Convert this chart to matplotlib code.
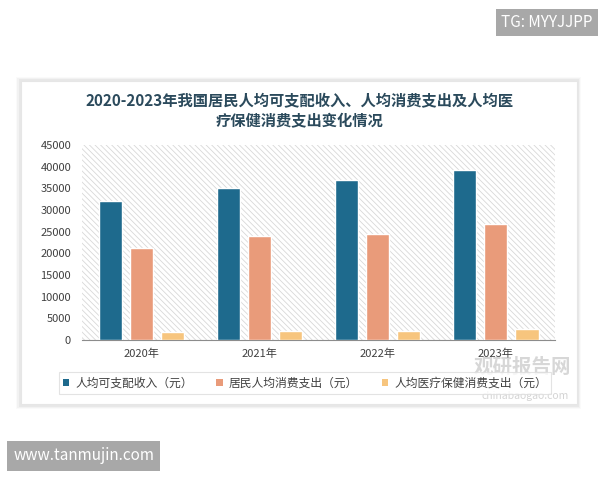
import matplotlib
matplotlib.use("Agg")
import matplotlib.pyplot as plt
from matplotlib.patches import Rectangle, FancyBboxPatch, Patch
import numpy as np

plt.rcParams['font.family'] = ['Noto Sans CJK SC', 'DejaVu Sans']
plt.rcParams['hatch.linewidth'] = 0.6

years = ["2020年", "2021年", "2022年", "2023年"]
income = [32189, 35128, 36883, 39218]
consumption = [21210, 24100, 24538, 26796]
health = [1843, 2115, 2120, 2460]
series_names = ["人均可支配收入（元）", "居民人均消费支出（元）", "人均医疗保健消费支出（元）"]
colors = ["#1E6A8D", "#E99B7A", "#F7C57E"]
yticks = [0, 5000, 10000, 15000, 20000, 25000, 30000, 35000, 40000, 45000]

fig = plt.figure(figsize=(6, 4.8), dpi=100)
fig.patch.set_facecolor("white")

# card with soft shadow
for i, a in enumerate([0.02, 0.03, 0.04]):
    fig.patches.append(FancyBboxPatch((0.033 - 0.002*(3-i), 0.156 - 0.003*(3-i)),
                                      0.93 + 0.004*(3-i), 0.677 + 0.005*(3-i),
                                      boxstyle="square,pad=0", transform=fig.transFigure,
                                      facecolor="black", alpha=a, edgecolor="none", zorder=-3))
fig.patches.append(Rectangle((0.035, 0.158), 0.926, 0.673, transform=fig.transFigure,
                             facecolor="white", edgecolor="#e6e6e6", lw=0.8, zorder=-2))

ax = fig.add_axes([0.137, 0.2917, 0.788, 0.406])
ax.set_facecolor("none")
ax.add_patch(Rectangle((0, 0), 1, 1, transform=ax.transAxes, facecolor="white",
                       hatch="\\\\\\\\\\\\", edgecolor="#d8d8d8", lw=0, zorder=0))

x = np.arange(len(years))
w = 0.195
pitch = 0.263
for k, (vals, c) in enumerate(zip([income, consumption, health], colors)):
    ax.bar(x + (k - 1) * pitch, vals, width=w, color=c, edgecolor="white", lw=1.0, zorder=3)

ax.set_xlim(-0.5, 3.5)
ax.set_ylim(0, 45000)
ax.set_yticks(yticks)
ax.set_yticklabels([str(v) for v in yticks], fontsize=8, color="#404040")
ax.set_xticks(x)
ax.set_xticklabels(years, fontsize=8, color="#404040")
ax.tick_params(axis="both", length=0)
ax.tick_params(axis="y", pad=8)
ax.tick_params(axis="x", pad=6)
for s in ["top", "right", "left"]:
    ax.spines[s].set_visible(False)
ax.spines["bottom"].set_color("#8c8c8c")
ax.spines["bottom"].set_linewidth(0.8)

fig.text(0.5, 0.769, "2020-2023年我国居民人均可支配收入、人均消费支出及人均医\n疗保健消费支出变化情况",
         ha="center", va="center", fontsize=11, fontweight="bold", color="#2B4A5C", linespacing=1.3)

handles = [Patch(facecolor=c, edgecolor="none") for c in colors]
leg = fig.legend(handles, series_names, loc="center", bbox_to_anchor=(0.508, 0.202),
                 ncol=3, fontsize=8.5, frameon=True, fancybox=False, edgecolor="#dcdcdc",
                 handlelength=0.55, handleheight=0.55, handletextpad=0.5, columnspacing=2.0,
                 borderpad=0.35)
leg.get_frame().set_linewidth(0.8)
for t in leg.get_texts():
    t.set_color("#404040")

# watermarks
fig.text(0.87, 0.235, "观研报告网", ha="center", va="center", fontsize=14, fontweight="bold",
         color="#b0b0b0", alpha=0.5)
fig.text(0.875, 0.176, "chinabaogao.com", ha="center", va="center", fontsize=7.5,
         color="#b0b0b0", alpha=0.55)
fig.text(0.988, 0.953, "TG: MYYJJPP", ha="right", va="center", fontsize=11, color="white",
         bbox=dict(boxstyle="square,pad=0.35", facecolor="#a8a8a8", edgecolor="none"))
fig.text(0.022, 0.05, "www.tanmujin.com", ha="left", va="center", fontsize=11, color="white",
         bbox=dict(boxstyle="square,pad=0.4", facecolor="#a8a8a8", edgecolor="none"))

fig.savefig("out.png", dpi=100, facecolor="white")
